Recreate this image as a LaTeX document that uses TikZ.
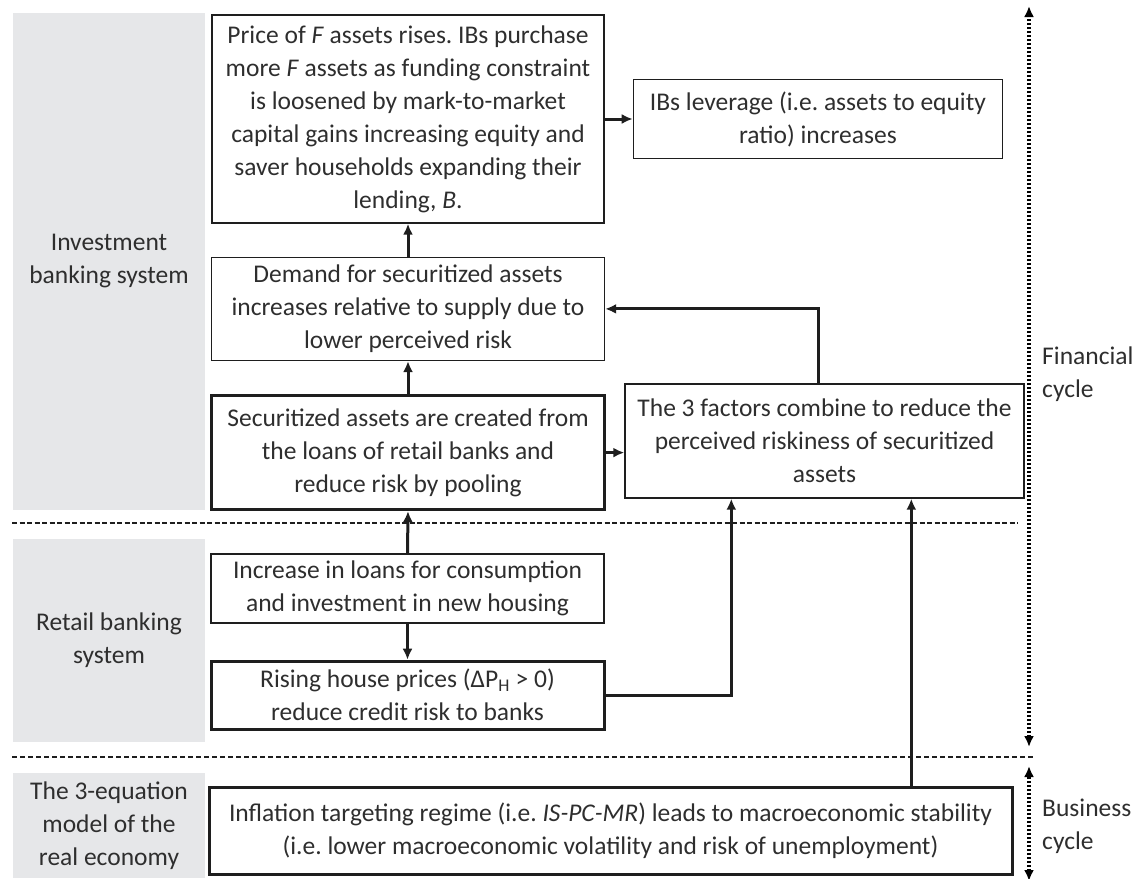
\documentclass[tikz,border=0pt]{standalone}
\usepackage{fontspec}
\setmainfont{Carlito}
\usetikzlibrary{positioning, arrows.meta}
\definecolor{sectorgray}{HTML}{E6E7E9}
\definecolor{inkgray}{HTML}{2E2E2E}
\definecolor{linegray}{HTML}{1E1E1E}
\frenchspacing

\begin{document}
\begin{tikzpicture}[x=1pt, y=-1pt, font=\fontsize{25.5}{33}\selectfont, text=inkgray,
  box/.style={draw=linegray, line width=1.4pt, align=center, inner sep=0pt},
  thickbox/.style={box, line width=3pt},
  sector/.style={fill=sectorgray, align=center, minimum width=192pt, inner sep=0pt},
  flow/.style={-{Latex[length=11pt, width=10pt]}, linegray, line width=3pt},
  cyclearrow/.style={{Latex[length=11pt, width=10pt]}-{Latex[length=11pt, width=10pt]}, black, line width=4pt, dash pattern=on 2.5pt off 1.5pt}]
  \useasboundingbox (0,0) rectangle (1139,878);

  % sector labels on the left
  \node[sector, minimum height=497pt] (ibsys) at (109,261.5) {Investment\\banking system};
  \node[sector, minimum height=203pt] (retailsys) at (109,640.5) {Retail banking\\system};
  \node[sector, minimum height=105pt] (realecon) at (109,825.5) {The 3-equation\\model of the\\real economy};

  % dividers
  \draw[linegray, line width=2.4pt, dash pattern=on 5pt off 2.5pt] (12,523) -- (1018,523);
  \draw[linegray, line width=1.3pt, dash pattern=on 5pt off 3pt] (12,757) -- (1035,757);

  % investment banking
  \node[box, minimum width=392pt, minimum height=208pt] (price) at (408,119)
    {Price of \textit{F} assets rises. IBs purchase\\ more \textit{F} assets as funding constraint\\ is loosened by mark-to-market\\ capital gains increasing equity and\\ saver households expanding their\\ lending, \textit{B}.};
  \node[box, minimum width=369pt, minimum height=79pt, right=28pt of price] (leverage)
    {IBs leverage (i.e. assets to equity\\ ratio) increases};
  \node[box, minimum width=393pt, minimum height=103pt, below=33pt of price] (demand)
    {Demand for securitized assets\\ increases relative to supply due to\\ lower perceived risk};
  \node[thickbox, minimum width=393pt, minimum height=114pt, below=33pt of demand] (securitize)
    {Securitized assets are created from\\ the loans of retail banks and\\ reduce risk by pooling};
  \node[box, minimum width=399pt, minimum height=114pt] (factors) at (824.5,441)
    {The 3 factors combine to reduce the\\ perceived riskiness of securitized\\ assets};

  % retail banking
  \node[box, minimum width=393pt, minimum height=69pt] (loans) at (407.5,588.5)
    {Increase in loans for consumption\\ and investment in new housing};
  \node[thickbox, minimum width=393pt, minimum height=68pt, below=36pt of loans] (houses)
    {Rising house prices (ΔP\textsubscript{H} > 0)\\ reduce credit risk to banks};

  % real economy
  \node[thickbox, minimum width=803pt, minimum height=87pt] (inflation) at (610.5,830.5)
    {Inflation targeting regime (i.e. \textit{IS-PC-MR}) leads to macroeconomic stability\\ (i.e. lower macroeconomic volatility and risk of unemployment)};

  % connectors
  \draw[flow] (price.east) -- (leverage.west);
  \draw[flow] (demand.north) -- (price.south);
  \draw[flow] (securitize.north) -- (demand.south);
  \draw[flow] (loans.north) -- (securitize.south);
  \draw[flow] (loans.south) -- (houses.north);
  \draw[flow] (securitize.east) -- (securitize.east -| factors.west);
  \coordinate (hf) at ([xshift=107pt]factors.south west);
  \coordinate (inf) at ([xshift=287pt]factors.south west);
  \coordinate (fd) at ([xshift=194pt]factors.north west);
  \draw[flow] (houses.east) -| (hf);
  \draw[flow] (inflation.north -| inf) -- (inf);
  \draw[flow] (fd) |- (demand.east);

  % cycles
  \coordinate (fintop) at (1029,6);
  \coordinate (finbot) at (1029,747);
  \coordinate (bustop) at (1029,766);
  \coordinate (busbot) at (1029,881);
  \draw[cyclearrow] (finbot) -- (fintop);
  \draw[cyclearrow] (busbot) -- (bustop);
  \node[anchor=west, align=left, inner sep=0pt] (fincycle) at (1042,374) {Financial\\ cycle};
  \node[anchor=west, align=left, inner sep=0pt] (buscycle) at (1042,826) {Business\\ cycle};
\end{tikzpicture}
\end{document}
